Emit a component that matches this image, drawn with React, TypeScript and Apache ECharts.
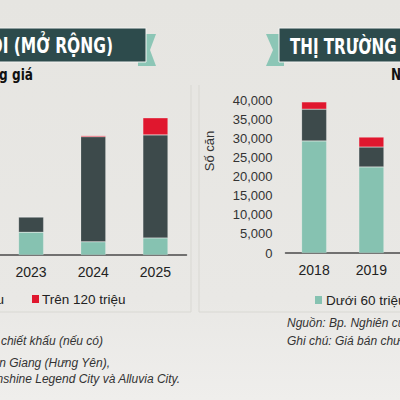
import React, { useEffect, useRef } from 'react';
import * as echarts from 'echarts';

// Hà Nội (mở rộng) – visible years only
const leftYears = ['2023', '2024', '2025'];
const leftUnder60 = [5900, 3400, 4400];
const leftMid = [3900, 27100, 26600];
const leftOver120 = [0, 300, 4400];

// Thị trường ... – visible years only
const rightYears = ['2018', '2019'];
const rightUnder60 = [29300, 22500];
const rightMid = [8300, 5200];
const rightOver120 = [1900, 2600];

const TEAL = '#86c2b1';
const DARK = '#3d4a4b';
const RED = '#e0172e';
const BANNER = '#2d4b4c';
const MINT = '#8cc6b6';
const NARROW = "'Liberation Sans Narrow', 'DejaVu Sans Condensed', sans-serif";
const SANS = "'Liberation Sans', Arial, sans-serif";

const App: React.FC = () => {
  const chartRef = useRef<HTMLDivElement>(null);

  useEffect(() => {
    if (!chartRef.current) return;
    const chart = echarts.init(chartRef.current, null, { renderer: 'svg' });

    const barSeries = (name: string, data: number[], color: string, idx: number) => ({
      name,
      type: 'bar',
      stack: idx === 0 ? 'left' : 'right',
      xAxisIndex: idx,
      yAxisIndex: idx,
      barWidth: 25,
      data,
      itemStyle: { color, borderColor: 'rgba(255,255,255,0.35)', borderWidth: 0.5 }
    });

    const xAxisBase = {
      type: 'category',
      axisLine: { lineStyle: { color: '#4a4a4a', width: 1.5 } },
      axisTick: { show: false },
      axisLabel: { fontSize: 14, color: '#222', fontFamily: SANS, margin: 10 }
    };

    const option: echarts.EChartsOption = {
      animation: false,
      backgroundColor: new echarts.graphic.LinearGradient(0, 0, 0, 1, [
        { offset: 0, color: '#e6e5e1' },
        { offset: 0.75, color: '#e9e8e5' },
        { offset: 1, color: '#efeeec' }
      ]),
      grid: [
        { left: -2.5, top: 100, width: 189, height: 155 },
        { left: 285.5, top: 100, width: 126, height: 153 }
      ],
      xAxis: [
        { ...xAxisBase, gridIndex: 0, data: leftYears },
        { ...xAxisBase, gridIndex: 1, data: rightYears }
      ] as any,
      yAxis: [
        { type: 'value', gridIndex: 0, min: 0, max: 40000, interval: 5000, show: false },
        {
          type: 'value',
          gridIndex: 1,
          min: 0,
          max: 40000,
          interval: 5000,
          axisLine: { show: false },
          axisTick: { show: false },
          splitLine: { show: false },
          axisLabel: {
            fontSize: 13,
            color: '#333',
            fontFamily: SANS,
            margin: 13,
            formatter: (v: number) => v.toLocaleString('en-US')
          }
        }
      ],
      series: [
        barSeries('Dưới 60 triệu', leftUnder60, TEAL, 0),
        barSeries('60 - 120 triệu', leftMid, DARK, 0),
        barSeries('Trên 120 triệu', leftOver120, RED, 0),
        barSeries('Dưới 60 triệu', rightUnder60, TEAL, 1),
        barSeries('60 - 120 triệu', rightMid, DARK, 1),
        barSeries('Trên 120 triệu', rightOver120, RED, 1)
      ] as any,
      graphic: [
        // faint panel edges
        { type: 'line', shape: { x1: 191, y1: 85, x2: 191, y2: 312 }, style: { stroke: '#d9d8d3', lineWidth: 1 } },
        { type: 'line', shape: { x1: 0, y1: 312, x2: 191, y2: 312 }, style: { stroke: '#d9d8d3', lineWidth: 1 } },
        { type: 'line', shape: { x1: 199, y1: 85, x2: 199, y2: 312 }, style: { stroke: '#d9d8d3', lineWidth: 1 } },
        { type: 'line', shape: { x1: 199, y1: 312, x2: 400, y2: 312 }, style: { stroke: '#d9d8d3', lineWidth: 1 } },

        // left banner
        { type: 'polygon', shape: { points: [[138, 34], [156, 34], [150, 50], [156, 66], [138, 66]] }, style: { fill: MINT } },
        { type: 'rect', shape: { x: -5, y: 28, width: 151, height: 34 }, style: { fill: BANNER, stroke: '#f3f3f1', lineWidth: 1 } },
        {
          type: 'text', x: 113, y: 46, scaleX: 0.82,
          style: { text: 'HÀ NỘI (MỞ RỘNG)', fill: '#fff', font: `bold 21px ${NARROW}`, align: 'right', verticalAlign: 'middle' }
        },
        {
          type: 'text', x: 33, y: 75, scaleX: 0.9,
          style: { text: 'Phân khúc theo tầng giá', fill: '#111', font: `bold 15px ${NARROW}`, align: 'right', verticalAlign: 'middle' }
        },

        // right banner
        { type: 'polygon', shape: { points: [[266, 34], [284, 34], [284, 66], [266, 66], [273, 50]] }, style: { fill: MINT } },
        { type: 'rect', shape: { x: 279, y: 28, width: 130, height: 34 }, style: { fill: BANNER, stroke: '#f3f3f1', lineWidth: 1 } },
        {
          type: 'text', x: 290, y: 46, scaleX: 0.8,
          style: { text: 'THỊ TRƯỜNG CĂN HỘ', fill: '#fff', font: `bold 21px ${NARROW}`, align: 'left', verticalAlign: 'middle' }
        },
        {
          type: 'text', x: 391, y: 75, scaleX: 0.9,
          style: { text: 'Nguồn cung mới', fill: '#111', font: `bold 15px ${NARROW}`, align: 'left', verticalAlign: 'middle' }
        },

        // axis name
        {
          type: 'text', x: 209, y: 151, rotation: Math.PI / 2,
          style: { text: 'Số căn', fill: '#333', font: `13px ${SANS}`, align: 'center', verticalAlign: 'middle' }
        },

        // legends
        {
          type: 'text', x: 4, y: 299,
          style: { text: '60 - 120 triệu', fill: '#222', font: `13.5px ${SANS}`, align: 'right', verticalAlign: 'middle' }
        },
        { type: 'rect', shape: { x: 32, y: 295, width: 7, height: 8 }, style: { fill: RED } },
        {
          type: 'text', x: 42, y: 299,
          style: { text: 'Trên 120 triệu', fill: '#222', font: `13.5px ${SANS}`, align: 'left', verticalAlign: 'middle' }
        },
        { type: 'rect', shape: { x: 315, y: 296, width: 7, height: 8 }, style: { fill: TEAL } },
        {
          type: 'text', x: 326, y: 300,
          style: { text: 'Dưới 60 triệu', fill: '#222', font: `13.5px ${SANS}`, align: 'left', verticalAlign: 'middle' }
        },

        // footnotes
        {
          type: 'text', x: 103, y: 341,
          style: { text: 'Giá bán chưa bao gồm VAT, chiết khấu (nếu có)', fill: '#333', font: `italic 12px ${SANS}`, align: 'right', verticalAlign: 'middle' }
        },
        {
          type: 'text', x: 110, y: 363,
          style: { text: 'Ecopark Văn Giang (Hưng Yên),', fill: '#333', font: `italic 12px ${SANS}`, align: 'right', verticalAlign: 'middle' }
        },
        {
          type: 'text', x: 180, y: 379,
          style: { text: 'Sunshine Legend City và Alluvia City.', fill: '#333', font: `italic 12px ${SANS}`, align: 'right', verticalAlign: 'middle' }
        },
        {
          type: 'text', x: 287, y: 323,
          style: { text: 'Nguồn: Bp. Nghiên cứu thị trường', fill: '#333', font: `italic 12px ${SANS}`, align: 'left', verticalAlign: 'middle' }
        },
        {
          type: 'text', x: 287, y: 341,
          style: { text: 'Ghi chú: Giá bán chưa bao gồm VAT', fill: '#333', font: `italic 12px ${SANS}`, align: 'left', verticalAlign: 'middle' }
        }
      ] as any
    };

    chart.setOption(option);

    return () => {
      chart.dispose();
    };
  }, []);

  return (
    <div
      ref={chartRef}
      style={{ position: 'fixed', left: 0, top: 0, width: 400, height: 400 }}
    />
  );
};

export default App;
